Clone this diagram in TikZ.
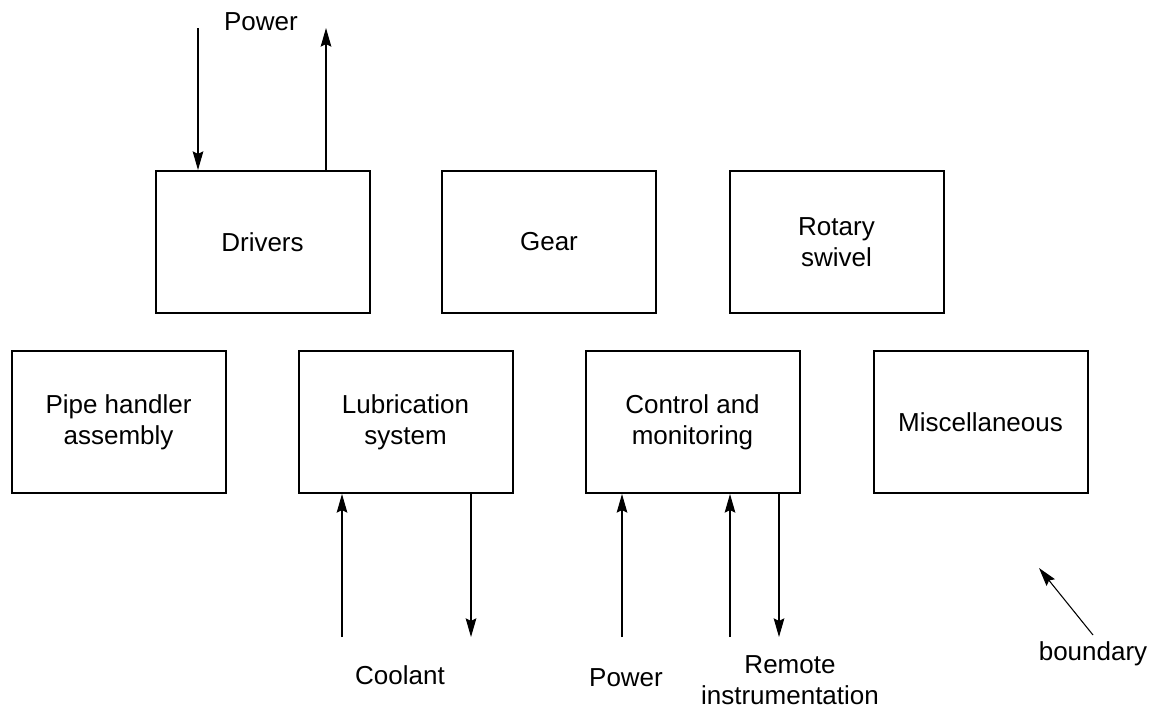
\documentclass[tikz,border=0pt]{standalone}
\usepackage{fontspec}
\setmainfont{Liberation Sans}
\usetikzlibrary{arrows.meta}
\begin{document}
\begin{tikzpicture}[x=0.75pt,y=-0.75pt,
  blk/.style={draw, line width=1.5pt, minimum width=160.5pt, minimum height=106.5pt, align=center, inner sep=0pt, font=\fontsize{19.5}{23}\selectfont},
  lbl/.style={align=center, inner sep=0pt, font=\fontsize{19.5}{23}\selectfont},
  flow/.style={line width=0.8pt, -{Stealth[length=14pt,width=8pt,inset=2pt]}}]
\useasboundingbox (0,0) rectangle (1155,711);
\node[blk] (drv) at (262.5,242) {Drivers};
\node[blk] (gear) at (549,242) {Gear};
\node[blk] (rot) at (836.5,242) {Rotary\\swivel};
\node[blk] (pipe) at (118.5,422) {Pipe handler\\assembly};
\node[blk] (lub) at (405.5,422) {Lubrication\\system};
\node[blk] (ctl) at (692.5,422) {Control and\\monitoring};
\node[blk] (misc) at (980.5,422) {Miscellaneous};

\node[lbl] (pwrtop) at (261,22) {Power};
\node[lbl] (cool) at (400,675) {Coolant};
\node[lbl] (pwrbot) at (626,678) {Power};
\node[lbl] (remote) at (790,680) {Remote\\instrumentation};
\node[lbl] (bnd) at (1093,654) {boundary};

\coordinate (t1) at (198,28);
\coordinate (t2) at (326,28);
\coordinate (b1) at (342,637);
\coordinate (b2) at (471,637);
\coordinate (b3) at (622,637);
\coordinate (b4) at (730,637);
\coordinate (b5) at (779,637);
\coordinate (bs) at (1093,635);
\coordinate (be) at (1039,568);

\draw[flow] (t1) -- (t1 |- drv.north);
\draw[flow] (t2 |- drv.north) -- (t2);
\draw[flow] (b1) -- (b1 |- lub.south);
\draw[flow] (b2 |- lub.south) -- (b2);
\draw[flow] (b3) -- (b3 |- ctl.south);
\draw[flow] (b4) -- (b4 |- ctl.south);
\draw[flow] (b5 |- ctl.south) -- (b5);
\draw[flow] (bs) -- (be);
\end{tikzpicture}
\end{document}
